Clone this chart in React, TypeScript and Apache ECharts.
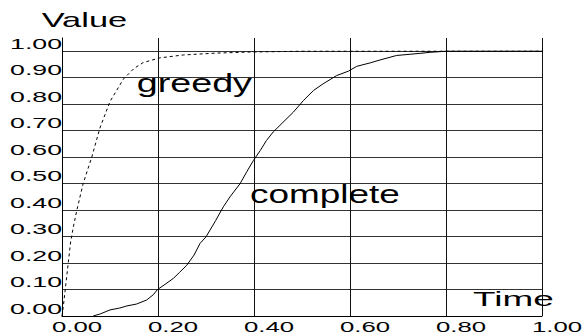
import { useEffect, useRef } from "react";
import * as echarts from "echarts";

// Tick values and labels
const xTicks = [0, 0.2, 0.4, 0.6, 0.8, 1.0];
const xTickLabels = ["0.00", "0.20", "0.40", "0.60", "0.80", "1.00"];
const yTicks = [0, 0.1, 0.2, 0.3, 0.4, 0.5, 0.6, 0.7, 0.8, 0.9, 1.0];
const yTickLabels = ["0.00", "0.10", "0.20", "0.30", "0.40", "0.50", "0.60", "0.70", "0.80", "0.90", "1.00"];

// Axis titles and series names
const yTitle = "Value";
const xTitle = "Time";
const greedyName = "greedy";
const completeName = "complete";

// Greedy series (dashed)
const greedyX = [0, 0.003, 0.008, 0.013, 0.018, 0.024, 0.031, 0.044, 0.062, 0.079, 0.1, 0.128, 0.15, 0.169, 0.204, 0.253, 0.322, 0.39, 0.5, 0.7, 1.05];
const greedyY = [0, 0.04, 0.12, 0.2, 0.28, 0.34, 0.4, 0.5, 0.6, 0.71, 0.81, 0.895, 0.935, 0.957, 0.975, 0.986, 0.993, 0.997, 1.0, 1.0, 1.0];

// Complete series (solid, stepped empirical curve)
const completeX = [0.065, 0.08, 0.1, 0.12, 0.135, 0.155, 0.176, 0.19, 0.199, 0.215, 0.232, 0.245, 0.26, 0.275, 0.2875, 0.3, 0.32, 0.336, 0.35, 0.371, 0.385, 0.399, 0.413, 0.426, 0.44, 0.454, 0.482, 0.503, 0.524, 0.544, 0.572, 0.597, 0.614, 0.642, 0.6625, 0.697, 0.746, 0.767, 0.8, 1.05];
const completeY = [0, 0.008, 0.023, 0.03, 0.038, 0.045, 0.06, 0.08, 0.1, 0.12, 0.142, 0.165, 0.192, 0.23, 0.274, 0.299, 0.36, 0.412, 0.45, 0.5, 0.545, 0.588, 0.625, 0.663, 0.695, 0.72, 0.77, 0.814, 0.852, 0.877, 0.908, 0.925, 0.943, 0.956, 0.967, 0.984, 0.992, 0.996, 1.0, 1.0];

const FONT = '"Liberation Sans", Arial, sans-serif';

function txt(text: string, x: number, y: number, size: number, scaleX: number, align: string) {
  return {
    type: "text",
    x,
    y,
    originX: 0,
    originY: 0,
    scaleX,
    scaleY: 1,
    z: 100,
    style: {
      text,
      x: 0,
      y: 0,
      font: `${size}px ${FONT}`,
      fill: "#000",
      align,
      verticalAlign: "middle",
      textAlign: align,
      textVerticalAlign: "middle",
    },
  };
}

export default function App() {
  const ref = useRef<HTMLDivElement>(null);
  useEffect(() => {
    const chart = echarts.init(ref.current!, null, { renderer: "svg" });
    chart.setOption({
      animation: false,
      grid: { left: 62, right: 43, top: 38, bottom: 19 },
      xAxis: {
        type: "value",
        min: 0,
        max: 1,
        interval: 0.2,
        axisLabel: { show: false },
        axisTick: { show: false },
        axisLine: { show: true, lineStyle: { color: "#000", width: 1 } },
        splitLine: { show: true, lineStyle: { color: "#111", width: 1 } },
      },
      yAxis: {
        type: "value",
        min: 0,
        max: 1.05,
        interval: 0.1,
        axisLabel: { show: false },
        axisTick: { show: false },
        axisLine: { show: true, lineStyle: { color: "#000", width: 1 } },
        splitLine: { show: true, showMaxLine: false, lineStyle: { color: "#333", width: 1 } },
      },
      series: [
        {
          name: completeName,
          type: "line",
          data: completeX.map((x, i) => [x, completeY[i]]),
          symbol: "none",
          showSymbol: false,
          clip: false,
          lineStyle: { color: "#000", width: 1 },
        },
        {
          name: greedyName,
          type: "line",
          data: greedyX.map((x, i) => [x, greedyY[i]]),
          symbol: "none",
          showSymbol: false,
          clip: false,
          lineStyle: { color: "#000", width: 1, type: [3, 3] },
        },
      ],
    });

    const graphics: any[] = [];
    xTicks.forEach((v, i) => {
      const p = chart.convertToPixel({ gridIndex: 0 }, [v, 0]) as number[];
      graphics.push(txt(xTickLabels[i], p[0] + 15, p[1] + 10.5, 14, 1.84, "center"));
    });
    yTicks.forEach((v, i) => {
      const p = chart.convertToPixel({ gridIndex: 0 }, [0, v]) as number[];
      graphics.push(txt(yTickLabels[i], p[0], p[1] - 7.5, 15, 1.78, "right"));
    });
    graphics.push(txt(yTitle, 41.7, 19.7, 21, 1.64, "left"));
    graphics.push(txt(xTitle, 473, 298.7, 21, 1.76, "left"));
    graphics.push(txt(greedyName, 136.7, 82.7, 26, 1.45, "left"));
    graphics.push(txt(completeName, 250, 194.3, 26, 1.42, "left"));
    chart.setOption({ graphic: graphics });

    return () => chart.dispose();
  }, []);
  return (
    <div
      ref={ref}
      style={{ position: "fixed", left: 0, top: 0, width: 585, height: 335, background: "#fff" }}
    />
  );
}
